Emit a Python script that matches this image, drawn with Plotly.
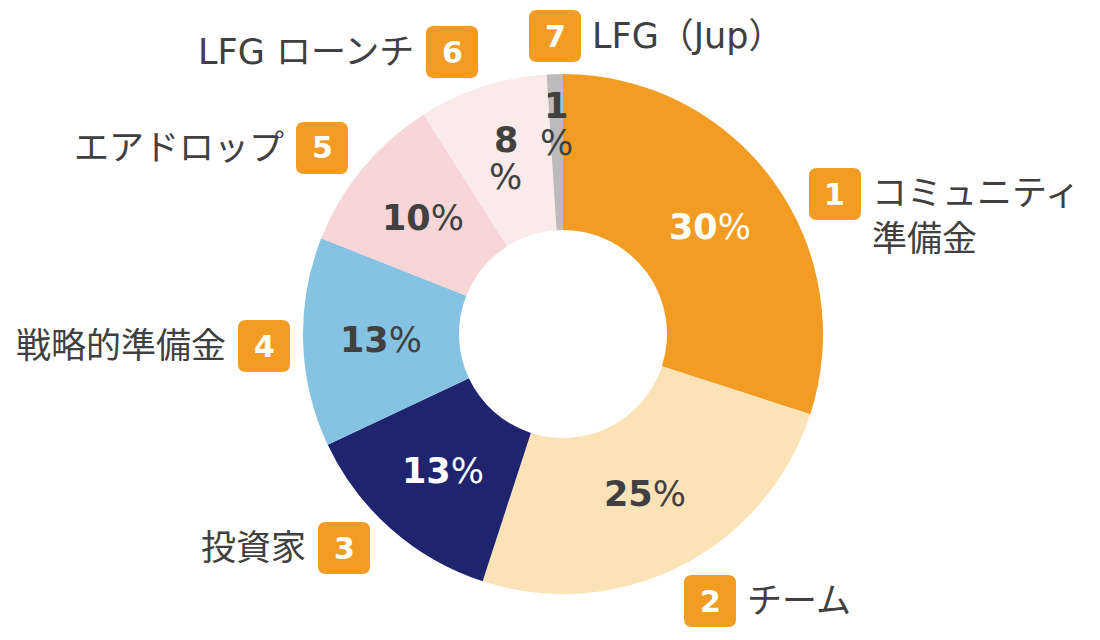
import math
import plotly.graph_objects as go

# ---- data ----
categories = ["コミュニティ<br>準備金", "チーム", "投資家", "戦略的準備金",
              "エアドロップ", "LFG ローンチ", "LFG（Jup）"]
values = [30, 25, 13, 13, 10, 8, 1]
badge_numbers = ["1", "2", "3", "4", "5", "6", "7"]
wrapped_pct = [False, False, False, False, False, True, True]

colors = ["#F39C24", "#FCE3B7", "#1F246E", "#86C3E3", "#F8D5D6", "#FBEAEA", "#BBBBBB"]
pct_colors = ["#FFFFFF", "#404040", "#FFFFFF", "#404040", "#404040", "#404040", "#404040"]

# ---- layout constants (pixels) ----
W, H = 1100, 640
CX, CY, R = 563, 334, 260
HOLE = 0.4
# badge centers and label side
badge_pos = [(835, 194), (710, 601), (344, 548), (264, 346), (322, 148), (452, 52), (555, 36)]
label_side = ["right", "right", "left", "left", "left", "left", "right"]
label_r = [182, 180, 182, 182, 182, 185, 210]
BADGE = 52
CORNER = 8
TEXT = "#404040"
FONT = "DejaVu Sans, Noto Sans CJK JP, sans-serif"


def px(x):
    return x / W


def py(y):
    return 1 - y / H


fig = go.Figure()
fig.add_trace(go.Pie(
    labels=[c.replace("<br>", "") for c in categories],
    values=values,
    sort=False,
    direction="clockwise",
    rotation=0,
    hole=HOLE,
    marker=dict(colors=colors, line=dict(width=0)),
    textinfo="none",
    hoverinfo="label+percent",
    domain=dict(x=[px(CX - R), px(CX + R)], y=[py(CY + R), py(CY - R)]),
    showlegend=False,
))

annotations = []
shapes = []


def ann(x, y, text, size, color, xanchor="center", align="center"):
    return dict(x=px(x), y=py(y), xref="paper", yref="paper",
                xanchor=xanchor, yanchor="middle", align=align,
                text=text, showarrow=False,
                font=dict(size=size, color=color, family=FONT))


# percentage labels inside the ring
total = sum(values)
cum = 0
for i, v in enumerate(values):
    mid = (cum + v / 2) / total * 2 * math.pi
    cum += v
    r = label_r[i]
    x = CX + r * math.sin(mid)
    y = CY - r * math.cos(mid)
    fcol = pct_colors[i]
    if wrapped_pct[i]:
        annotations.append(ann(x, y - 18, f"<b>{v}</b>", 35, fcol))
        annotations.append(ann(x, y + 19, "%", 35, fcol))
    else:
        annotations.append(ann(x, y, f"<b>{v}</b>%", 35, fcol))


def rounded_rect(cx, cy, s, c):
    x0, x1 = cx - s / 2, cx + s / 2
    y0, y1 = cy - s / 2, cy + s / 2
    pts = [
        f"M {px(x0 + c)},{py(y0)}",
        f"L {px(x1 - c)},{py(y0)}",
        f"Q {px(x1)},{py(y0)} {px(x1)},{py(y0 + c)}",
        f"L {px(x1)},{py(y1 - c)}",
        f"Q {px(x1)},{py(y1)} {px(x1 - c)},{py(y1)}",
        f"L {px(x0 + c)},{py(y1)}",
        f"Q {px(x0)},{py(y1)} {px(x0)},{py(y1 - c)}",
        f"L {px(x0)},{py(y0 + c)}",
        f"Q {px(x0)},{py(y0)} {px(x0 + c)},{py(y0)}",
        "Z",
    ]
    return " ".join(pts)


for i, cat in enumerate(categories):
    bx, by = badge_pos[i]
    shapes.append(dict(type="path", xref="paper", yref="paper",
                       path=rounded_rect(bx, by, BADGE, CORNER),
                       fillcolor="#F39C24", line=dict(width=0)))
    annotations.append(ann(bx, by, f"<b>{badge_numbers[i]}</b>", 30, "#FFFFFF"))
    nlines = cat.count("<br>") + 1
    ty = by + (nlines - 1) * 22
    if label_side[i] == "right":
        annotations.append(ann(bx + BADGE / 2 + 9, ty, cat, 35, TEXT, "left", "left"))
    else:
        annotations.append(ann(bx - BADGE / 2 - 10, ty, cat, 35, TEXT, "right", "right"))

fig.update_layout(
    width=W, height=H,
    margin=dict(l=0, r=0, t=0, b=0),
    paper_bgcolor="#FFFFFF",
    plot_bgcolor="#FFFFFF",
    annotations=annotations,
    shapes=shapes,
)

fig.write_html("out.html")
